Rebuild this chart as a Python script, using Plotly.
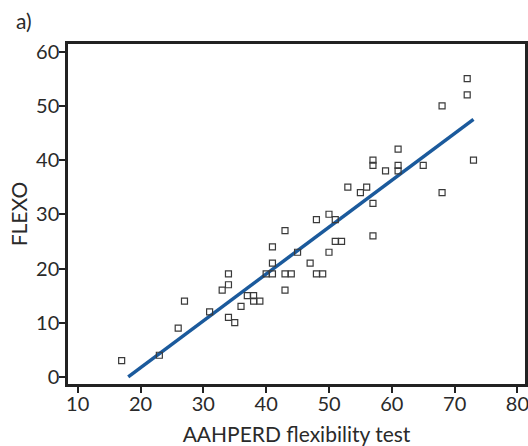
import numpy as np
import plotly.graph_objects as go

aahperd = [17, 23, 26, 27, 31, 33, 34, 34, 34, 35, 36, 37, 38, 38, 39, 40, 41, 41, 41, 43,
           43, 43, 44, 45, 47, 48, 48, 49, 50, 50, 51, 51, 52, 53, 55, 56, 57, 57, 57, 57,
           59, 61, 61, 61, 65, 68, 68, 72, 72, 73]
flexo = [3, 4, 9, 14, 12, 16, 17, 19, 11, 10, 13, 15, 15, 14, 14, 19, 19, 21, 24, 27,
         19, 16, 19, 23, 21, 29, 19, 19, 30, 23, 29, 25, 25, 35, 34, 35, 40, 39, 32, 26,
         38, 42, 39, 38, 39, 50, 34, 55, 52, 40]

x_ticks = [10, 20, 30, 40, 50, 60, 70, 80]
y_ticks = [0, 10, 20, 30, 40, 50, 60]

slope, intercept = np.polyfit(aahperd, flexo, 1)
x_start = max(min(aahperd), -intercept / slope)
fit_x = np.array([x_start, max(aahperd)])
fit_y = intercept + slope * fit_x

FONT = "Lato"
TXT = "#2a2a2a"

fig = go.Figure()
fig.add_trace(go.Scatter(
    x=fit_x, y=fit_y, mode="lines",
    line=dict(color="#1b5a9c", width=3.5),
    hoverinfo="skip", showlegend=False,
))
fig.add_trace(go.Scatter(
    x=aahperd, y=flexo, mode="markers",
    marker=dict(symbol="square-open", size=6, color="#3a3a3a", line=dict(width=1.2, color="#3a3a3a")),
    showlegend=False,
))

fig.update_layout(
    width=528, height=446,
    margin=dict(l=68, r=3, t=44, b=62),
    paper_bgcolor="white", plot_bgcolor="white",
    font=dict(family=FONT, size=20, color=TXT),
    xaxis=dict(
        range=[8.46, 81.2], tickvals=x_ticks, ticks="outside", ticklen=6, tickwidth=1.5,
        tickcolor="#222", showline=True, linewidth=2.5, linecolor="#222", mirror=True,
        showgrid=False, zeroline=False, automargin=False, ticklabelstandoff=-6,
        ticklabeloverflow="allow",
        title=dict(text="AAHPERD flexibility test", standoff=14, font=dict(size=21)),
    ),
    yaxis=dict(
        range=[-1.3, 61.4], tickvals=y_ticks, ticks="outside", ticklen=6, tickwidth=1.5,
        tickcolor="#222", showline=True, linewidth=2.5, linecolor="#222", mirror=True,
        showgrid=False, zeroline=False, automargin=False, ticklabelstandoff=-4,
        ticklabeloverflow="allow",
        title=dict(text="FLEXO", standoff=3, font=dict(size=21)),
    ),
    annotations=[dict(text="a)", x=(14 - 68) / (528 - 71), y=(446 - 62 - 20) / (446 - 106),
                      xref="paper", yref="paper", showarrow=False,
                      font=dict(size=21), xanchor="left", yanchor="middle")],
)

fig.write_html("out.html", config={"displayModeBar": False},
               post_script="document.body.style.margin='0';document.body.style.overflow='hidden';")
